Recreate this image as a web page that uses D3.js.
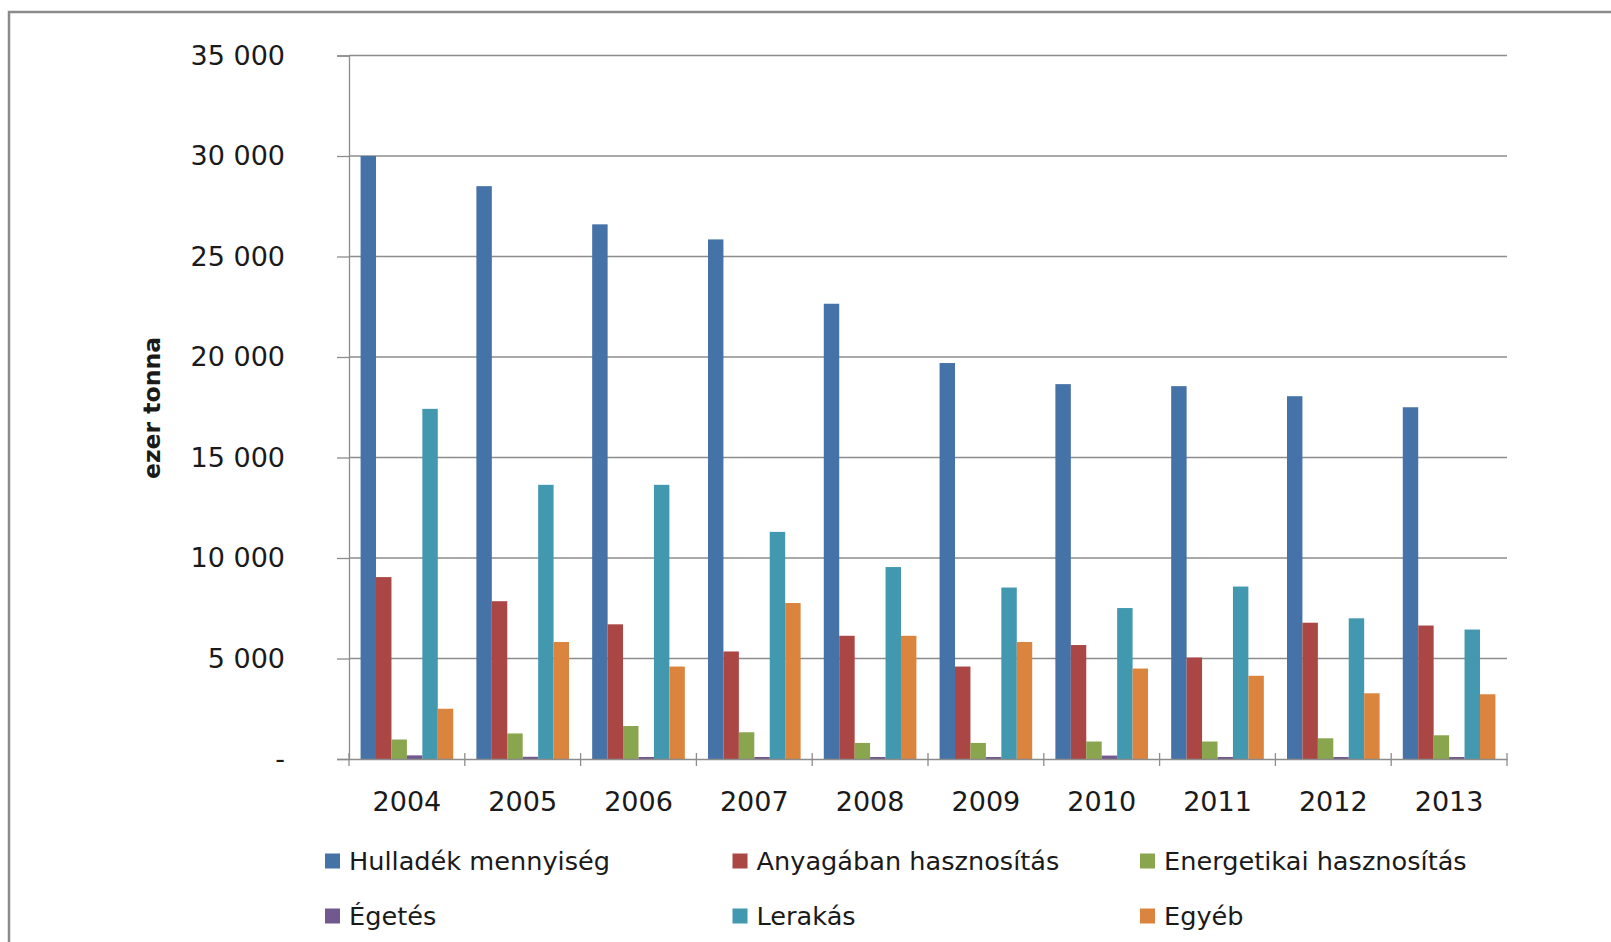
<!DOCTYPE html>
<html lang="hu">
<head>
  <meta charset="UTF-8">
  <title>Hulladék</title>
  <script src="https://d3js.org/d3.v7.min.js"></script>
  <style>
    body { margin: 0; background: #fff; }
    text { font-family: "DejaVu Sans", sans-serif; fill: #1a1a1a; }
  </style>
</head>
<body>
  <svg width="1611" height="942"></svg>
  <script>
    const years = ["2004", "2005", "2006", "2007", "2008", "2009", "2010", "2011", "2012", "2013"];
    const seriesNames = ["Hulladék mennyiség", "Anyagában hasznosítás", "Energetikai hasznosítás", "Égetés", "Lerakás", "Egyéb"];
    const colors = ["#4572A7", "#AA4643", "#89A54E", "#71588F", "#4198AF", "#DB843D"];

    const hulladek   = [30000, 28500, 26600, 25850, 22650, 19700, 18650, 18550, 18050, 17500];
    const anyagaban  = [9050, 7850, 6700, 5350, 6130, 4600, 5670, 5050, 6780, 6640];
    const energetika = [970, 1270, 1640, 1330, 800, 800, 870, 870, 1030, 1180];
    const egetes     = [180, 110, 100, 100, 100, 100, 170, 100, 100, 100];
    const lerakas    = [17420, 13640, 13640, 11300, 9550, 8530, 7510, 8580, 7000, 6440];
    const egyeb      = [2500, 5820, 4600, 7760, 6130, 5820, 4500, 4140, 3270, 3220];

    const yTicks = [0, 5000, 10000, 15000, 20000, 25000, 30000, 35000];

    const allSeries = [hulladek, anyagaban, energetika, egetes, lerakas, egyeb];

    const svg = d3.select("svg");
    const width = +svg.attr("width");
    const height = +svg.attr("height");
    const margin = {top: 55.5, right: 104, bottom: 183, left: 349};
    const innerWidth = width - margin.left - margin.right;
    const innerHeight = height - margin.top - margin.bottom;

    // outer frame: only top and left edges are visible
    svg.append("path")
      .attr("d", `M9,${height} V12 H${width}`)
      .attr("fill", "none")
      .attr("stroke", "#8a8a8a")
      .attr("stroke-width", 2.5);

    const g = svg.append("g").attr("transform", `translate(${margin.left},${margin.top})`);

    const x0 = d3.scaleBand().domain(years).range([0, innerWidth]).padding(0);
    const x1 = d3.scaleBand().domain(seriesNames)
      .range([x0.bandwidth() * 0.1, x0.bandwidth() * 0.9]).padding(0);
    const y = d3.scaleLinear().domain([0, 35000]).range([innerHeight, 0]);

    // gridlines
    g.append("g")
      .selectAll("line")
      .data(yTicks.slice(1))
      .join("line")
      .attr("x1", 0).attr("x2", innerWidth)
      .attr("y1", d => y(d)).attr("y2", d => y(d))
      .attr("stroke", "#8c8c8c")
      .attr("stroke-width", 1.3);

    // y axis
    const yAxis = g.append("g")
      .call(d3.axisLeft(y).tickValues(yTicks).tickSize(12).tickPadding(52)
        .tickFormat(d => d === 0 ? "-" : d3.format(",")(d).replace(",", " ")));
    yAxis.select(".domain").attr("stroke", "#8c8c8c").attr("stroke-width", 1.3);
    yAxis.selectAll(".tick line").attr("stroke", "#8c8c8c").attr("stroke-width", 1.3);
    yAxis.selectAll("text").attr("font-size", 27).attr("fill", "#1a1a1a")
      .attr("font-family", "DejaVu Sans, sans-serif");

    // bars
    const groups = g.append("g")
      .selectAll("g")
      .data(years)
      .join("g")
      .attr("transform", d => `translate(${x0(d)},0)`);

    groups.selectAll("rect")
      .data((yr, i) => seriesNames.map((s, k) => ({s, v: allSeries[k][i], c: colors[k]})))
      .join("rect")
      .attr("x", d => x1(d.s))
      .attr("width", x1.bandwidth())
      .attr("y", d => y(d.v))
      .attr("height", d => y(0) - y(d.v))
      .attr("fill", d => d.c);

    // x axis
    const xAxis = g.append("g")
      .attr("transform", `translate(0,${innerHeight})`)
      .call(d3.axisBottom(x0).tickSize(0).tickPadding(33));
    xAxis.select(".domain").attr("stroke", "#8c8c8c").attr("stroke-width", 1.3);
    xAxis.selectAll("text").attr("font-size", 27).attr("fill", "#1a1a1a")
      .attr("font-family", "DejaVu Sans, sans-serif");
    xAxis.append("g")
      .selectAll("line")
      .data(years.map(d => x0(d)).concat([innerWidth]))
      .join("line")
      .attr("x1", d => d).attr("x2", d => d)
      .attr("y1", -6).attr("y2", 7)
      .attr("stroke", "#8c8c8c")
      .attr("stroke-width", 1.3);

    // y axis title
    svg.append("text")
      .attr("transform", "translate(152,408) rotate(-90)")
      .attr("text-anchor", "middle")
      .attr("dominant-baseline", "central")
      .attr("font-size", 23.5)
      .attr("font-weight", "bold")
      .text("ezer tonna");

    // legend
    const legend = svg.append("g");
    const item = legend.selectAll("g")
      .data(seriesNames)
      .join("g")
      .attr("transform", (d, i) => `translate(${325 + (i % 3) * 407.5},${i < 3 ? 861 : 916})`);
    item.append("rect")
      .attr("x", 0).attr("y", -7.5)
      .attr("width", 15).attr("height", 15)
      .attr("fill", (d, i) => colors[i]);
    item.append("text")
      .attr("x", 24)
      .attr("dominant-baseline", "central")
      .attr("font-size", 25.6)
      .text(d => d);
  </script>
</body>
</html>
